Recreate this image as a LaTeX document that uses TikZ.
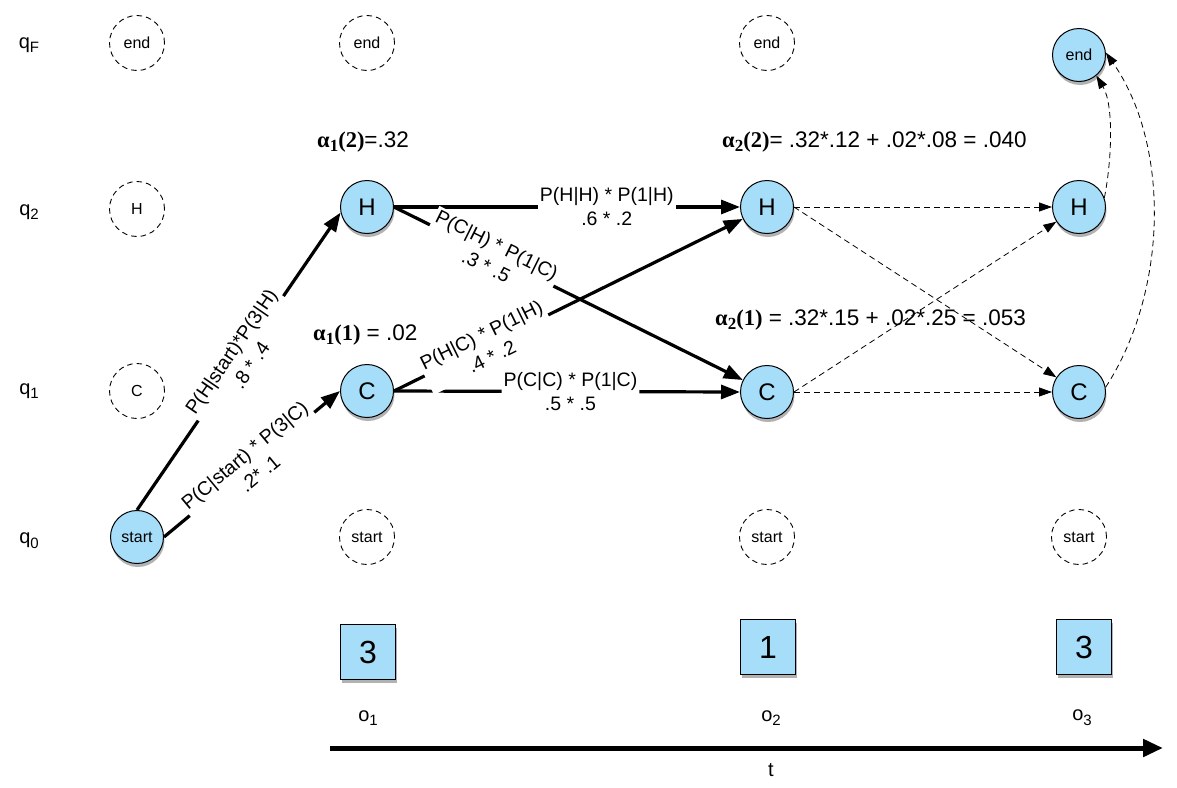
\documentclass[tikz,border=0pt]{standalone}
\usepackage{fontspec}
\setmainfont{Liberation Sans}
\newfontfamily\serifbf{Liberation Serif}
\usetikzlibrary{arrows.meta,shadows}
\definecolor{stblue}{RGB}{166,222,250}
\newcommand{\sbs}[1]{\raisebox{-0.45ex}{\fontsize{15}{15}\selectfont #1}}
\newcommand{\alf}[2]{{\serifbf\bfseries\fontsize{22.5}{22.5}\selectfont α\raisebox{-0.4ex}{\fontsize{17}{17}\selectfont #1}(#2)}}
\begin{document}
\begin{tikzpicture}[x=1pt,y=-1pt,
  shad/.style={drop shadow={shadow xshift=1pt,shadow yshift=-3.5pt,fill=black,opacity=0.3}},
  state/.style={circle,draw,line width=1pt,fill=stblue,minimum size=53pt,inner sep=0pt,
    font=\fontsize{24}{24}\selectfont,shad},
  sstate/.style={state,font=\fontsize{16}{16}\selectfont},
  ghost/.style={circle,draw,line width=0.9pt,dash pattern=on 5.5pt off 4pt,minimum size=55pt,inner sep=0pt,
    font=\fontsize{16}{16}\selectfont},
  obs/.style={rectangle,draw,line width=0.8pt,fill=stblue,minimum width=55pt,minimum height=55pt,
    inner sep=0pt,font=\fontsize{32}{32}\selectfont,shad},
  lab/.style={font=\fontsize{19.5}{24}\selectfont,align=center,fill=white,inner sep=2pt,sloped},
  qlab/.style={font=\fontsize{20}{20}\selectfont},
  alab/.style={anchor=west,font=\fontsize{22.5}{22.5}\selectfont,inner sep=0pt},
  strong/.style={line width=3.2pt,-{Triangle[length=19pt,width=14pt]}},
  weak/.style={line width=0.8pt,dash pattern=on 6pt off 4pt,-{Triangle[length=13pt,width=9pt]}}
]
\useasboundingbox (0,0) rectangle (1177,787);

% row labels
\node[qlab] (qF) at (29,45) {q\sbs{F}};
\node[qlab] (q2) at (29,212) {q\sbs{2}};
\node[qlab] (q1) at (29,391) {q\sbs{1}};
\node[qlab] (q0) at (29,541) {q\sbs{0}};

% ghost states
\node[ghost] (gE0) at (137,43) {end};
\node[ghost] (gE1) at (367,43) {end};
\node[ghost] (gE2) at (767,43) {end};
\node[ghost] (gH0) at (137,209) {H};
\node[ghost] (gC0) at (137,391) {C};
\node[ghost] (gS1) at (367,537) {start};
\node[ghost] (gS2) at (767,537) {start};
\node[ghost] (gS3) at (1079,537) {start};

% active states
\node[sstate] (start) at (137,537) {start};
\node[state] (H1) at (367,207) {H};
\node[state] (C1) at (367,391) {C};
\node[state] (H2) at (767,207) {H};
\node[state] (C2) at (767,392) {C};
\node[state] (H3) at (1079,207) {H};
\node[state] (C3) at (1079,392) {C};
\node[sstate] (endF) at (1079,55) {end};

% alpha labels
\node[alab] (a12) at (317,142) {\alf{1}{2}=.32};
\node[alab] (a11) at (313,335) {\alf{1}{1} = .02};
\node[alab] (a22) at (722,142) {\alf{2}{2}= .32*.12 + .02*.08 = .040};
\node[alab] (a21) at (715,320) {\alf{2}{1} = .32*.15 + .02*.25 = .053};

% solid edges
\draw[strong] (start.north) -- (H1.192);
\draw[strong] (start.east) -- (C1.west);
\draw[strong] (H1.east) -- (H2.west);
\draw[strong] (H1.east) -- (C2);
\draw[strong] (C1.east) -- (H2);
\draw[strong] (C1.east) -- (C2.west);

% edge labels on top
\path (start.north) -- (H1.192) node[lab,pos=0.51] {P(H|start)*P(3|H)\\.8 * .4};
\path (start.east) -- (C1.west) node[lab,pos=0.5] {P(C|start) * P(3|C)\\.2* .1};
\path (H1.east) -- (H2.west) node[lab,pos=0.615] {P(H|H) * P(1|H)\\.6 * .2};
\path (H1.east) -- (C2) node[lab,pos=0.28] {P(C|H) * P(1|C)\\.3 * .5};
\path (C1.east) -- (H2) node[lab,pos=0.265] {P(H|C) * P(1|H)\\.4 * .2};
\path (C1.east) -- (C2.west) node[lab,pos=0.51] {P(C|C) * P(1|C)\\.5 * .5};

% dashed edges
\draw[weak] (H2.east) -- (H3.west);
\draw[weak] (H2.east) -- (C3);
\draw[weak] (C2.east) -- (H3);
\draw[weak] (C2.east) -- (C3.west);
\draw[weak] (H3.20) .. controls +(7,-35) and +(18,30) .. (endF.-50);
\draw[weak] (C3.10) .. controls +(63,-97) and +(64,92) .. (endF.5);

% observations
\node[obs] (o1b) at (368,652) {3};
\node[obs] (o2b) at (768,647) {1};
\node[obs] (o3b) at (1084,647) {3};
\node[qlab] (o1) at (368,718) {o\sbs{1}};
\node[qlab] (o2) at (771,718) {o\sbs{2}};
\node[qlab] (o3) at (1082,718) {o\sbs{3}};

% time axis
\coordinate (t0) at (330,748);
\coordinate (t1) at (1163,748);
\draw[line width=5pt,-{Triangle[length=20pt,width=17pt]}] (t0) -- (t1);
\node[qlab] (t) at (771,770) {t};
\end{tikzpicture}
\end{document}
